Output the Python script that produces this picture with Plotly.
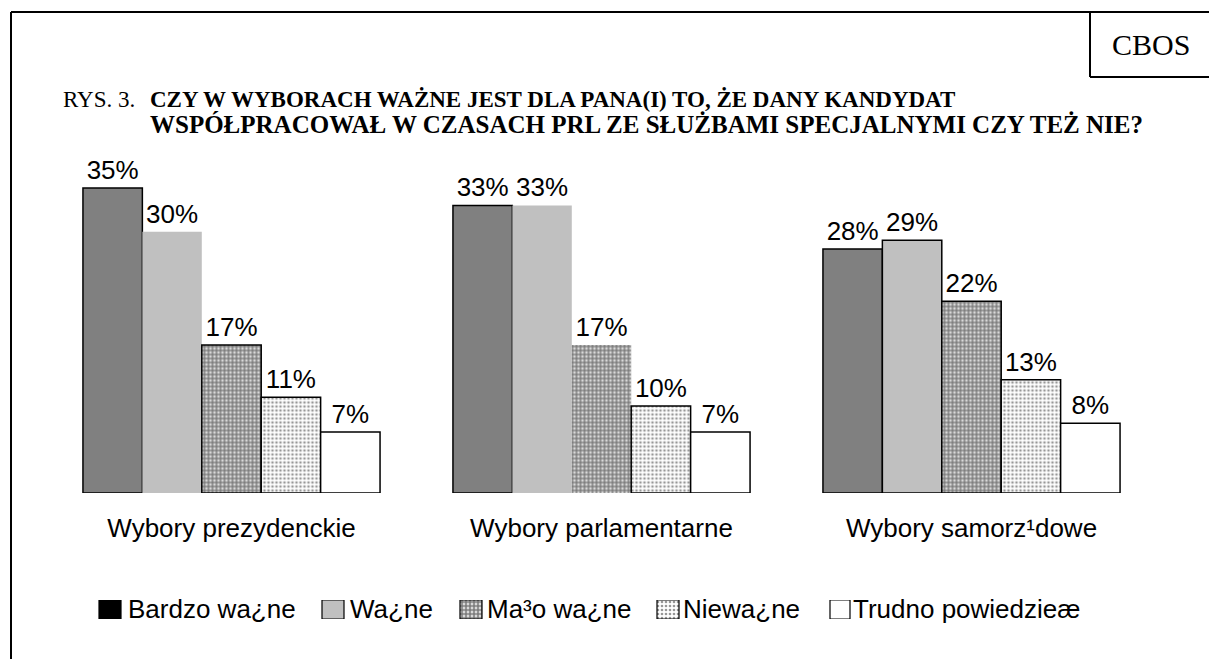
import plotly.graph_objects as go

# ---- data ----
categories = ["Wybory prezydenckie", "Wybory parlamentarne", "Wybory samorz¹dowe"]
series_names = ["Bardzo wa¿ne", "Wa¿ne", "Ma³o wa¿ne", "Niewa¿ne", "Trudno powiedzieæ"]
bardzo_wazne = [35, 33, 28]
wazne = [30, 33, 29]
malo_wazne = [17, 17, 22]
niewazne = [11, 10, 13]
trudno = [7, 7, 8]

title_prefix = "RYS. 3."
title_line1 = "CZY W WYBORACH WAŻNE JEST DLA PANA(I) TO, ŻE DANY KANDYDAT"
title_line2 = "WSPÓŁPRACOWAŁ W CZASACH PRL ZE SŁUŻBAMI SPECJALNYMI CZY TEŻ NIE?"
source_label = "CBOS"

# ---- layout helpers (pixel -> paper) ----
W, H = 1209, 659
def px(x):
    return x / W
def py(y):
    return 1 - y / H

SANS = "Liberation Sans, Arial, sans-serif"
SERIF = "Liberation Serif, Times New Roman, serif"
FS = 26

fig = go.Figure()

series_values = [bardzo_wazne, wazne, malo_wazne, niewazne, trudno]
pat_dense = dict(shape=".", fgcolor="black", bgcolor="white", size=4, solidity=0.75)
pat_light = dict(shape=".", fgcolor="#303030", bgcolor="white", size=4, solidity=0.35)
styles = [
    dict(color="#808080", line=dict(color="black", width=1.5)),
    dict(color="#C0C0C0", line=dict(color="black", width=[0, 0, 1.5])),
    dict(color="white", line=dict(color="black", width=[1.5, 0, 1.5]), pattern=pat_dense),
    dict(color="white", line=dict(color="black", width=1.5), pattern=pat_light),
    dict(color="white", line=dict(color="black", width=1.5)),
]

for name, vals, st in zip(series_names, series_values, styles):
    fig.add_trace(go.Bar(
        x=categories, y=vals, name=name, marker=st,
        text=[f"{v}%" for v in vals], textposition="outside",
        textfont=dict(family=SANS, size=FS, color="black"),
        cliponaxis=False, showlegend=False, hoverinfo="skip",
    ))

# ---- custom legend (swatches drawn as bars on an overlay axis) ----
legend_square_left = [99, 322, 460, 657, 830]
legend_square_width = [22, 22, 22, 22, 20]
legend_text_left = [126, 348, 485, 681, 851]
legend_y = 609
swatch_colors = ["black", "#C0C0C0", "white", "white", "white"]
swatch_patterns = [dict(shape=""), dict(shape=""), pat_dense, pat_light, dict(shape="")]
for i in range(5):
    fig.add_trace(go.Bar(
        x=[legend_square_left[i] + legend_square_width[i] / 2], y=[1],
        width=[legend_square_width[i]],
        marker=dict(color=swatch_colors[i], line=dict(color="black", width=1.2),
                    pattern=swatch_patterns[i]),
        xaxis="x2", yaxis="y2", showlegend=False, hoverinfo="skip",
    ))

annotations = []
for i, name in enumerate(series_names):
    annotations.append(dict(
        x=px(legend_text_left[i]), y=py(legend_y), xref="paper", yref="paper",
        text=name, showarrow=False, xanchor="left", yanchor="middle",
        font=dict(family=SANS, size=FS, color="black"),
    ))

annotations += [
    dict(x=px(61), y=py(99), xref="paper", yref="paper", text=title_prefix,
         showarrow=False, xanchor="left", yanchor="middle",
         font=dict(family=SERIF, size=23, color="black")),
    dict(x=px(148), y=py(99), xref="paper", yref="paper", text=f"<b>{title_line1}</b>",
         showarrow=False, xanchor="left", yanchor="middle",
         font=dict(family=SERIF, size=23, color="black")),
    dict(x=px(148), y=py(124), xref="paper", yref="paper", text=f"<b>{title_line2}</b>",
         showarrow=False, xanchor="left", yanchor="middle",
         font=dict(family=SERIF, size=25, color="black")),
    dict(x=px(1151), y=py(44), xref="paper", yref="paper", text=source_label,
         showarrow=False, xanchor="center", yanchor="middle",
         font=dict(family=SERIF, size=30, color="black")),
]

frame = dict(color="black", width=2)
shapes = [
    dict(type="line", xref="paper", yref="paper", x0=px(11), x1=px(11), y0=py(12), y1=py(H), line=frame),
    dict(type="line", xref="paper", yref="paper", x0=px(11), x1=px(W), y0=py(12), y1=py(12), line=frame),
    dict(type="line", xref="paper", yref="paper", x0=px(1090), x1=px(1090), y0=py(12), y1=py(77), line=frame),
    dict(type="line", xref="paper", yref="paper", x0=px(1090), x1=px(W), y0=py(77), y1=py(77), line=frame),
]

fig.update_layout(
    width=W, height=H,
    margin=dict(l=0, r=0, t=0, b=0),
    paper_bgcolor="white", plot_bgcolor="white",
    barmode="group", bargap=0.197, bargroupgap=0,
    showlegend=False,
    xaxis=dict(domain=[px(46.5), px(1156.5)], showline=False, showgrid=False, zeroline=False,
               ticks="", ticklabelstandoff=17,
               tickfont=dict(family=SANS, size=FS, color="black"), automargin=False),
    yaxis=dict(domain=[py(493), py(144.5)], range=[0, 40], visible=False, automargin=False),
    xaxis2=dict(domain=[0, 1], range=[0, W], visible=False, anchor="y2"),
    yaxis2=dict(domain=[py(619), py(600)], range=[0, 1], visible=False, anchor="x2"),
    annotations=annotations,
    shapes=shapes,
)

fig.write_html(
    "out.html",
    config={"displayModeBar": False},
    post_script="document.body.style.margin='0';document.body.style.overflow='hidden';",
)
